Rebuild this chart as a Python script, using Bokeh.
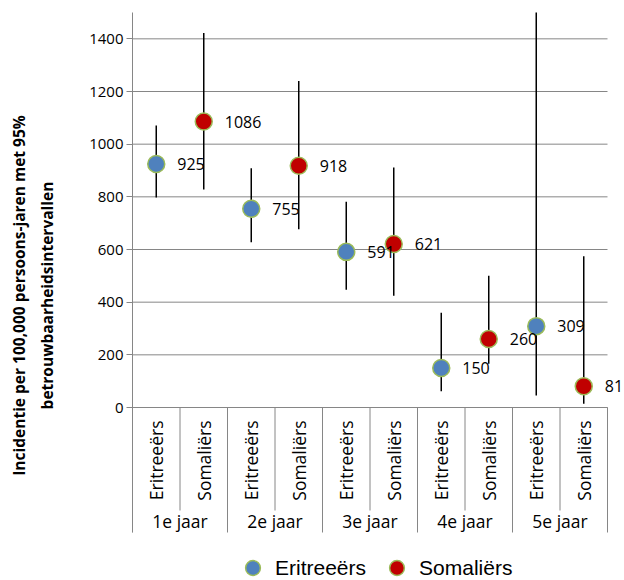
import numpy as np
from bokeh.plotting import figure
from bokeh.models import FixedTicker, Legend, LegendItem
from bokeh.core.properties import value
from bokeh.embed import file_html
from bokeh.resources import INLINE

# ---------------- data ----------------
groups = ["1e jaar", "2e jaar", "3e jaar", "4e jaar", "5e jaar"]
series = ["Eritreeërs", "Somaliërs"]
eri_val = [925, 755, 591, 150, 309]
eri_lo = [797, 628, 447, 62, 46]
eri_hi = [1071, 909, 781, 360, 2080]
som_val = [1086, 918, 621, 260, 81]
som_lo = [828, 677, 424, 166, 14]
som_hi = [1422, 1240, 911, 500, 574]
y_ticks = [0, 200, 400, 600, 800, 1000, 1200, 1400]
y_max = 1500
y_title = "Incidentie per 100,000 persoons-jaren met 95%\nbetrouwbaarheidsintervallen"

# ---------------- layout (screen pixels) ----------------
W, H = 622, 578
PAGE = 0
frame_left_px, axis_right_px, frame_top_px, zero_px = 132, 607, 12, 407
border_left = frame_left_px - PAGE
border_top = frame_top_px - PAGE
frame_w = W - border_left
frame_h = H - border_top
n_slots = len(groups) * len(series)
px_per_x = (axis_right_px - frame_left_px) / n_slots
px_per_y = (zero_px - frame_top_px) / y_max
x_end = frame_w / px_per_x
y_start = y_max - frame_h / px_per_y


def ydat(py):
    return (zero_px - py) / px_per_y


GRID = "#868686"
FONT = "Open Sans"

p = figure(width=W, height=H, x_range=(0, x_end), y_range=(y_start, y_max),
           min_border_left=border_left, min_border_top=border_top,
           min_border_right=0, min_border_bottom=0,
           x_axis_location=None, output_backend="svg", toolbar_location=None,
           outline_line_color=None)
p.xgrid.visible = False
p.ygrid.visible = False

# gridlines
p.segment(x0=0, x1=n_slots, y0=y_ticks, y1=y_ticks, line_color=GRID, line_width=1)

# y axis
ax = p.yaxis[0]
ax.ticker = FixedTicker(ticks=y_ticks)
ax.bounds = (ydat(532), y_max)
ax.axis_line_color = GRID
ax.major_tick_line_color = GRID
ax.major_tick_out = 6
ax.major_tick_in = 0
ax.minor_tick_line_color = None
ax.major_label_standoff = 3
ax.major_label_text_font = FONT
ax.major_label_text_font_size = "15px"
ax.major_label_text_color = "black"
ax.axis_label = y_title
ax.axis_label_text_font = FONT
ax.axis_label_text_font_style = "bold"
ax.axis_label_text_font_size = "15.5px"
ax.axis_label_text_line_height = 1.3
ax.axis_label_text_color = "black"
ax.axis_label_standoff = 28

# category axis
grp_bounds = [g * len(series) for g in range(len(groups) + 1)]
sub_bounds = [g * len(series) + 1 for g in range(len(groups))]
p.segment(x0=0, x1=n_slots, y0=0, y1=0, line_color=GRID, line_width=1)
p.segment(x0=grp_bounds, x1=grp_bounds, y0=0, y1=ydat(532), line_color=GRID, line_width=1)
p.segment(x0=sub_bounds, x1=sub_bounds, y0=0, y1=ydat(510), line_color=GRID, line_width=1)

sub_x = [g * len(series) + s + 0.5 for g in range(len(groups)) for s in range(len(series))]
sub_text = [series[s] for g in range(len(groups)) for s in range(len(series))]
p.text(x=sub_x, y=[ydat(420)] * len(sub_x), text=sub_text, angle=np.pi / 2,
       text_align="right", text_baseline="middle", text_font=value(FONT),
       text_font_size="17.5px", text_color="black")
grp_x = [g * len(series) + len(series) / 2 for g in range(len(groups))]
p.text(x=grp_x, y=[ydat(520)] * len(groups), text=groups,
       text_align="center", text_baseline="middle", text_font=value(FONT),
       text_font_size="17.5px", text_color="black")

# data
eri_x = [g * len(series) + 0.5 for g in range(len(groups))]
som_x = [g * len(series) + 1.5 for g in range(len(groups))]

p.segment(x0=eri_x, x1=eri_x, y0=eri_lo, y1=eri_hi, line_color="black", line_width=1.5)
p.segment(x0=som_x, x1=som_x, y0=som_lo, y1=som_hi, line_color="black", line_width=1.5)

r_eri = p.scatter(x=eri_x, y=eri_val, size=17, fill_color="#4F81BD",
                  line_color="#9BBB59", line_width=1.5)
r_som = p.scatter(x=som_x, y=som_val, size=17, fill_color="#C00000",
                  line_color="#9BBB59", line_width=1.5)

p.text(x=eri_x, y=eri_val, text=[str(v) for v in eri_val], x_offset=21,
       text_align="left", text_baseline="middle", text_font=value(FONT),
       text_font_size="16px", text_color="black")
p.text(x=som_x, y=som_val, text=[str(v) for v in som_val], x_offset=21,
       text_align="left", text_baseline="middle", text_font=value(FONT),
       text_font_size="16px", text_color="black")

legend = Legend(items=[LegendItem(label=series[0], renderers=[r_eri]),
                       LegendItem(label=series[1], renderers=[r_som])],
                orientation="horizontal", location=(102, -8),
                glyph_width=37, glyph_height=37, label_standoff=4, spacing=12,
                padding=0, margin=0, border_line_color=None,
                background_fill_alpha=0,
                label_text_font="Liberation Sans", label_text_font_size="21px",
                label_text_color="black")
p.add_layout(legend)

open("out.html", "w").write(file_html(p, INLINE))
